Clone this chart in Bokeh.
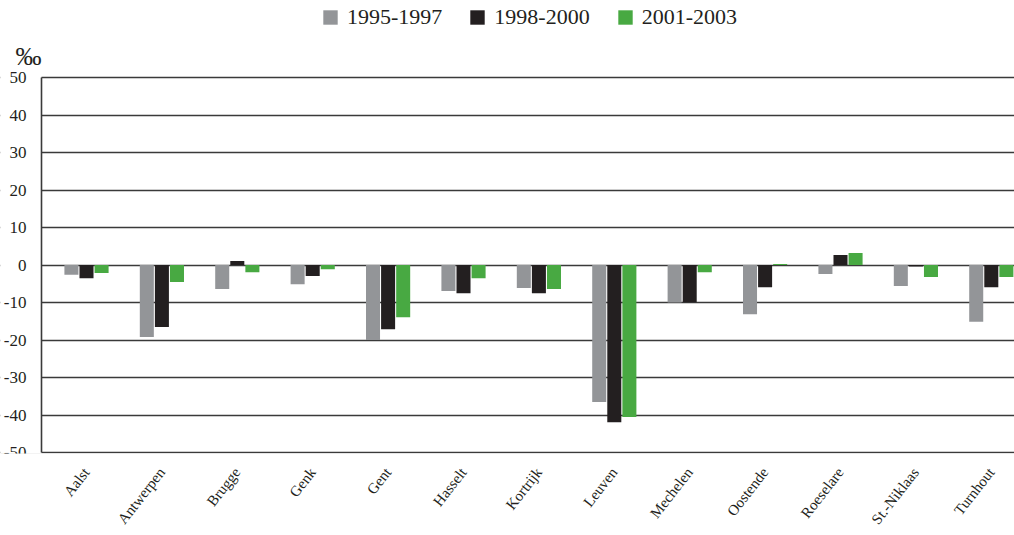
from bokeh.plotting import figure
from bokeh.models import (ColumnDataSource, FixedTicker, Legend, LegendItem, Label,
                          Range1d, BoxAnnotation)
from bokeh.transform import dodge
from bokeh.embed import file_html
from bokeh.resources import INLINE

cities = ["Aalst", "Antwerpen", "Brugge", "Genk", "Gent", "Hasselt", "Kortrijk",
          "Leuven", "Mechelen", "Oostende", "Roeselare", "St.-Niklaas", "Turnhout"]
series_names = ["1995-1997", "1998-2000", "2001-2003"]
v1995 = [-2.6, -19.2, -6.4, -5.1, -20.0, -6.9, -6.1, -36.5, -10.0, -13.1, -2.4, -5.6, -15.1]
v1998 = [-3.5, -16.5, 1.1, -2.9, -17.1, -7.5, -7.5, -41.9, -9.9, -5.9, 2.7, -0.4, -5.9]
v2001 = [-2.1, -4.5, -1.9, -1.1, -13.9, -3.5, -6.4, -40.5, -1.9, 0.3, 3.2, -3.2, -3.2]
y_ticks = [-50, -40, -30, -20, -10, 0, 10, 20, 30, 40, 50]

colors = ["#939598", "#231f20", "#48a942"]
FONT = "Liberation Serif"
TXT = "#231f20"
LINE = "#3a3a3a"

W, H = 1014, 535
FRAME_H = 453
u = 1 / 75.4                # x data units per pixel
ax_x = -45 * u              # where the value axis sits
xs = -86 * u
xe = (W - 86) * u
ys = -50 - 1 / 3.75
ye = ys + FRAME_H / 3.75

src = ColumnDataSource(dict(x=list(range(len(cities))), a=v1995, b=v1998, c=v2001))

p = figure(width=W, height=H, output_backend="svg", toolbar_location=None,
           x_range=Range1d(xs, xe), y_range=Range1d(ys, ye),
           min_border_left=0, min_border_right=0, min_border_top=0,
           min_border_bottom=H - FRAME_H)

# white mask left of the value axis so that grid lines start at the axis
p.add_layout(BoxAnnotation(left=xs, right=ax_x, bottom=ys - 5, top=ye + 5,
                           fill_color="white", fill_alpha=1.0, line_color=None,
                           level="underlay"))

rs = []
for col, off, c in zip(["a", "b", "c"], [-0.2, 0.0, 0.2], colors):
    rs.append(p.vbar(x=dodge("x", off), top=col, bottom=0, width=0.186, source=src,
                     fill_color=c, line_color=None))

p.outline_line_color = None
p.xgrid.grid_line_color = None
p.ygrid.ticker = FixedTicker(ticks=y_ticks)
p.ygrid.grid_line_color = LINE
p.ygrid.grid_line_width = 1.6

p.yaxis.fixed_location = ax_x
p.yaxis.bounds = (-50, 50)
p.yaxis.ticker = FixedTicker(ticks=y_ticks)
p.yaxis.major_label_overrides = {t: str(t) for t in y_ticks}
p.yaxis.major_tick_line_color = None
p.yaxis.minor_tick_line_color = None
p.yaxis.axis_line_color = LINE
p.yaxis.axis_line_width = 1.6
p.yaxis.major_label_text_font = FONT
p.yaxis.major_label_text_font_size = "17px"
p.yaxis.major_label_text_color = TXT
p.yaxis.major_label_standoff = 9

p.xaxis.ticker = FixedTicker(ticks=list(range(len(cities))))
p.xaxis.major_label_overrides = {i: c for i, c in enumerate(cities)}
p.xaxis.major_tick_line_color = None
p.xaxis.minor_tick_line_color = None
p.xaxis.axis_line_color = None
p.xaxis.major_label_orientation = 0.9076
p.xaxis.major_label_text_font = FONT
p.xaxis.major_label_text_font_size = "15px"
p.xaxis.major_label_text_color = TXT
p.xaxis.major_label_standoff = 10

legend = Legend(items=[LegendItem(label=n, renderers=[r]) for n, r in zip(series_names, rs)],
                orientation="horizontal", location=(321, FRAME_H - 30),
                label_text_font=FONT, label_text_font_size="22px", label_text_color=TXT,
                glyph_width=18, glyph_height=18, label_standoff=8, spacing=26,
                border_line_color=None, background_fill_alpha=0, padding=0, margin=0)
p.add_layout(legend)

p.add_layout(Label(x=xs + 15 * u, y=ye - 56 / 3.75, text="‰", text_font=FONT,
                   text_font_size="26px", text_color=TXT, text_baseline="alphabetic"))

open("out.html", "w").write(file_html(p, INLINE))
